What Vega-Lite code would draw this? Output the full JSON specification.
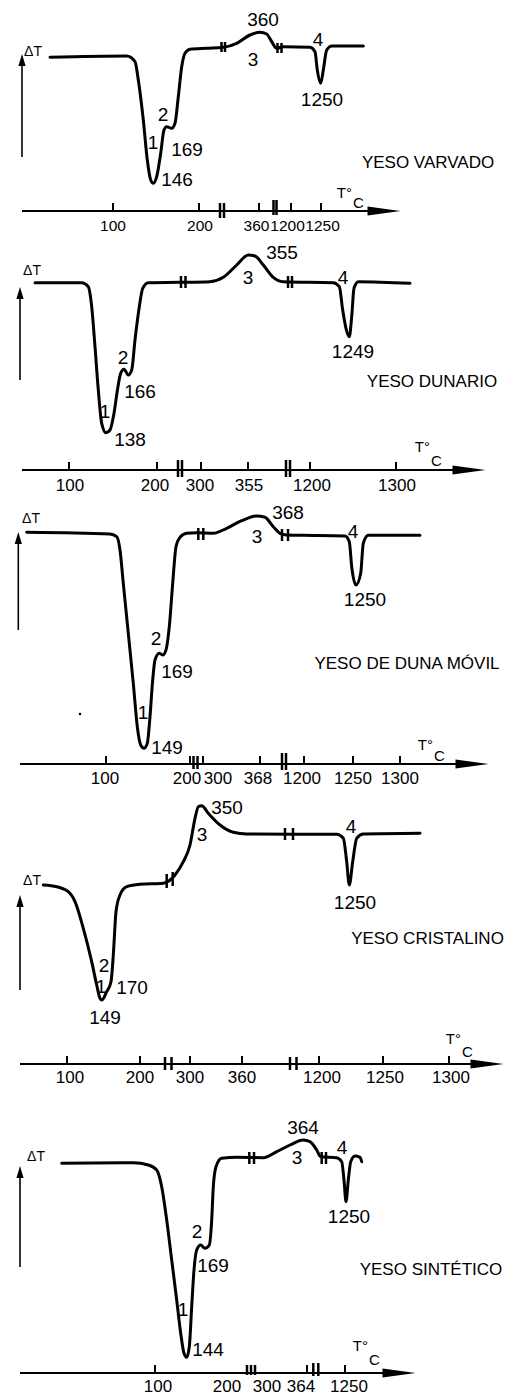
{
"$schema": "https://vega.github.io/schema/vega-lite/v6.json",
"background": "white",
"padding": 0,
"spacing": 0,
"bounds": "flush",
"config": {"view": {"stroke": null}, "concat": {"spacing": 0}},
"data": {"values": [
{"p":1,"k":"c","x":50,"y":153.7},{"p":1,"k":"c","x":126.7,"y":155},{"p":1,"k":"c","x":135,"y":149.3},{"p":1,"k":"c","x":138.3,"y":131},{"p":1,"k":"c","x":143.3,"y":91},{"p":1,"k":"c","x":147.3,"y":51},{"p":1,"k":"c","x":150.7,"y":31},{"p":1,"k":"c","x":153.3,"y":27.7},{"p":1,"k":"c","x":156.7,"y":34.3},{"p":1,"k":"c","x":160.7,"y":57.7},{"p":1,"k":"c","x":164,"y":81},{"p":1,"k":"c","x":166.7,"y":84.3},{"p":1,"k":"c","x":171.7,"y":82.7},{"p":1,"k":"c","x":175,"y":87.7},{"p":1,"k":"c","x":178.3,"y":114.3},{"p":1,"k":"c","x":181.7,"y":144.3},{"p":1,"k":"c","x":185,"y":157.7},{"p":1,"k":"c","x":190,"y":161.7},{"p":1,"k":"c","x":206.7,"y":162.7},{"p":1,"k":"c","x":223.3,"y":163.7},{"p":1,"k":"c","x":236.7,"y":167.7},{"p":1,"k":"c","x":250,"y":176},{"p":1,"k":"c","x":260,"y":178.7},{"p":1,"k":"c","x":266.7,"y":177},{"p":1,"k":"c","x":271.7,"y":169.3},{"p":1,"k":"c","x":276.7,"y":162.7},{"p":1,"k":"c","x":283.3,"y":164.3},{"p":1,"k":"c","x":310,"y":163.7},{"p":1,"k":"c","x":315,"y":159.3},{"p":1,"k":"c","x":317.3,"y":141},{"p":1,"k":"c","x":320.7,"y":127.7},{"p":1,"k":"c","x":323.3,"y":141},{"p":1,"k":"c","x":326.7,"y":161},{"p":1,"k":"c","x":331.7,"y":165},{"p":1,"k":"c","x":363.3,"y":165},
{"p":1,"k":"ax","x":22,"x2":372,"y":0},{"p":1,"k":"ah","x":384,"y":0},
{"p":1,"k":"tk","x":113,"y":0,"y2":8},{"p":1,"k":"tk","x":199,"y":0,"y2":8},{"p":1,"k":"tk","x":259,"y":0,"y2":8},{"p":1,"k":"tk","x":291,"y":0,"y2":8},{"p":1,"k":"tk","x":321,"y":0,"y2":8},
{"p":1,"k":"br","x":220,"y":-7,"y2":8},{"p":1,"k":"br","x":224,"y":-7,"y2":8},{"p":1,"k":"br","x":273.5,"y":-4,"y2":11},{"p":1,"k":"br","x":276.5,"y":-4,"y2":11},
{"p":1,"k":"br","x":221.5,"y":159,"y2":169},{"p":1,"k":"br","x":225,"y":159,"y2":169},{"p":1,"k":"br","x":277.5,"y":158,"y2":168},{"p":1,"k":"br","x":281.5,"y":158,"y2":168},
{"p":1,"k":"dl","x":22,"y":54,"y2":146},{"p":1,"k":"au","x":22,"y":151},
{"p":1,"k":"dt","x":33,"y":159,"t":"ΔT"},
{"p":1,"k":"tc1","x":352,"y":18,"t":"T°"},{"p":1,"k":"tc2","x":353,"y":8,"t":"C"},
{"p":1,"k":"n","x":263,"y":191,"t":"360"},{"p":1,"k":"n","x":253,"y":151,"t":"3"},{"p":1,"k":"n","x":318,"y":171,"t":"4"},{"p":1,"k":"n","x":322,"y":111,"t":"1250"},{"p":1,"k":"n","x":163,"y":96,"t":"2"},{"p":1,"k":"n","x":153,"y":68,"t":"1"},{"p":1,"k":"n","x":187,"y":61,"t":"169"},{"p":1,"k":"n","x":177,"y":31,"t":"146"},
{"p":1,"k":"tl","x":113,"y":-15,"t":"100"},{"p":1,"k":"tl","x":200,"y":-15,"t":"200"},{"p":1,"k":"tl","x":256.5,"y":-15,"t":"360"},{"p":1,"k":"tl","x":287.5,"y":-15,"t":"1200"},{"p":1,"k":"tl","x":322.5,"y":-15,"t":"1250"},
{"p":1,"k":"ttl","x":428,"y":48,"t":"YESO VARVADO"},

{"p":2,"k":"c","x":35,"y":187.3},{"p":2,"k":"c","x":81.7,"y":187.3},{"p":2,"k":"c","x":88.3,"y":183.3},{"p":2,"k":"c","x":91.7,"y":163.3},{"p":2,"k":"c","x":95,"y":123.3},{"p":2,"k":"c","x":98.3,"y":80},{"p":2,"k":"c","x":101.7,"y":46.7},{"p":2,"k":"c","x":106,"y":37.3},{"p":2,"k":"c","x":110,"y":40},{"p":2,"k":"c","x":114,"y":56.7},{"p":2,"k":"c","x":117.7,"y":81.7},{"p":2,"k":"c","x":120.7,"y":96.7},{"p":2,"k":"c","x":124,"y":100.7},{"p":2,"k":"c","x":128.3,"y":95},{"p":2,"k":"c","x":131.7,"y":100},{"p":2,"k":"c","x":135,"y":130},{"p":2,"k":"c","x":139.3,"y":163.3},{"p":2,"k":"c","x":142.7,"y":181.7},{"p":2,"k":"c","x":148.3,"y":187.3},{"p":2,"k":"c","x":180,"y":187.7},{"p":2,"k":"c","x":210,"y":188.3},{"p":2,"k":"c","x":223.3,"y":192.7},{"p":2,"k":"c","x":236.7,"y":205},{"p":2,"k":"c","x":248.3,"y":215},{"p":2,"k":"c","x":255,"y":214},{"p":2,"k":"c","x":263.3,"y":205},{"p":2,"k":"c","x":273.3,"y":192.7},{"p":2,"k":"c","x":283.3,"y":188.3},{"p":2,"k":"c","x":333.3,"y":187.3},{"p":2,"k":"c","x":339.3,"y":183.3},{"p":2,"k":"c","x":342.7,"y":160},{"p":2,"k":"c","x":346,"y":141.7},{"p":2,"k":"c","x":349.3,"y":133.3},{"p":2,"k":"c","x":351.7,"y":153.3},{"p":2,"k":"c","x":354,"y":181.7},{"p":2,"k":"c","x":358.3,"y":188.3},{"p":2,"k":"c","x":410,"y":186.7},
{"p":2,"k":"ax","x":22,"x2":455,"y":0},{"p":2,"k":"ah","x":469,"y":0},
{"p":2,"k":"tk","x":69,"y":0,"y2":8},{"p":2,"k":"tk","x":157,"y":0,"y2":8},{"p":2,"k":"tk","x":201,"y":0,"y2":8},{"p":2,"k":"tk","x":248,"y":0,"y2":8},{"p":2,"k":"tk","x":310,"y":0,"y2":8},{"p":2,"k":"tk","x":396,"y":0,"y2":8},
{"p":2,"k":"br","x":178,"y":-7,"y2":10},{"p":2,"k":"br","x":182,"y":-7,"y2":10},{"p":2,"k":"br","x":286,"y":-7,"y2":10},{"p":2,"k":"br","x":290,"y":-7,"y2":10},
{"p":2,"k":"br","x":181,"y":182,"y2":194},{"p":2,"k":"br","x":185.5,"y":182,"y2":194},{"p":2,"k":"br","x":288,"y":182,"y2":194},{"p":2,"k":"br","x":292,"y":182,"y2":194},
{"p":2,"k":"dl","x":20,"y":90,"y2":172},{"p":2,"k":"au","x":20,"y":177},
{"p":2,"k":"dt","x":32,"y":199,"t":"ΔT"},
{"p":2,"k":"tc1","x":430,"y":23,"t":"T°"},{"p":2,"k":"tc2","x":431,"y":9,"t":"C"},
{"p":2,"k":"n","x":282,"y":217,"t":"355"},{"p":2,"k":"n","x":248,"y":192,"t":"3"},{"p":2,"k":"n","x":343,"y":192,"t":"4"},{"p":2,"k":"n","x":353,"y":118,"t":"1249"},{"p":2,"k":"n","x":123,"y":112,"t":"2"},{"p":2,"k":"n","x":140,"y":78,"t":"166"},{"p":2,"k":"n","x":105,"y":58,"t":"1"},{"p":2,"k":"n","x":130,"y":30,"t":"138"},
{"p":2,"k":"tl","x":70,"y":-15.5,"t":"100"},{"p":2,"k":"tl","x":155,"y":-15.5,"t":"200"},{"p":2,"k":"tl","x":200,"y":-15.5,"t":"300"},{"p":2,"k":"tl","x":249,"y":-15.5,"t":"355"},{"p":2,"k":"tl","x":312,"y":-15.5,"t":"1200"},{"p":2,"k":"tl","x":397,"y":-15.5,"t":"1300"},
{"p":2,"k":"ttl","x":432,"y":88,"t":"YESO DUNARIO"},

{"p":3,"k":"c","x":26.7,"y":231.7},{"p":3,"k":"c","x":110,"y":230},{"p":3,"k":"c","x":116.7,"y":227.3},{"p":3,"k":"c","x":120,"y":214},{"p":3,"k":"c","x":123.3,"y":180.7},{"p":3,"k":"c","x":128.3,"y":130.7},{"p":3,"k":"c","x":133.3,"y":80.7},{"p":3,"k":"c","x":137.3,"y":37.3},{"p":3,"k":"c","x":140.7,"y":19},{"p":3,"k":"c","x":144,"y":15.7},{"p":3,"k":"c","x":147.3,"y":20.7},{"p":3,"k":"c","x":150,"y":47.3},{"p":3,"k":"c","x":152.7,"y":84},{"p":3,"k":"c","x":155,"y":104},{"p":3,"k":"c","x":159.3,"y":110.7},{"p":3,"k":"c","x":162.7,"y":109},{"p":3,"k":"c","x":166,"y":114},{"p":3,"k":"c","x":169.3,"y":137.3},{"p":3,"k":"c","x":172.7,"y":180.7},{"p":3,"k":"c","x":176,"y":217.3},{"p":3,"k":"c","x":180,"y":226.7},{"p":3,"k":"c","x":186.7,"y":230.7},{"p":3,"k":"c","x":196.7,"y":231.3},{"p":3,"k":"c","x":213.3,"y":230.7},{"p":3,"k":"c","x":226.7,"y":235.7},{"p":3,"k":"c","x":241.7,"y":243.3},{"p":3,"k":"c","x":256.7,"y":248},{"p":3,"k":"c","x":265,"y":246.7},{"p":3,"k":"c","x":273.3,"y":237.3},{"p":3,"k":"c","x":280,"y":230.7},{"p":3,"k":"c","x":286.7,"y":229},{"p":3,"k":"c","x":303.3,"y":228.7},{"p":3,"k":"c","x":345,"y":228},{"p":3,"k":"c","x":349.3,"y":222.3},{"p":3,"k":"c","x":351.7,"y":197.3},{"p":3,"k":"c","x":356,"y":179},{"p":3,"k":"c","x":360.7,"y":190.7},{"p":3,"k":"c","x":363.3,"y":220.7},{"p":3,"k":"c","x":368.3,"y":228.7},{"p":3,"k":"c","x":420,"y":228.7},
{"p":3,"k":"ax","x":20,"x2":458,"y":0},{"p":3,"k":"ah","x":472,"y":0},
{"p":3,"k":"tk","x":106,"y":0,"y2":8},{"p":3,"k":"tk","x":190,"y":0,"y2":8},{"p":3,"k":"tk","x":203,"y":0,"y2":8},{"p":3,"k":"tk","x":260,"y":0,"y2":8},{"p":3,"k":"tk","x":304,"y":0,"y2":8},{"p":3,"k":"tk","x":353,"y":0,"y2":8},{"p":3,"k":"tk","x":400,"y":0,"y2":8},
{"p":3,"k":"br","x":193.5,"y":-5,"y2":8},{"p":3,"k":"br","x":197.5,"y":-5,"y2":8},{"p":3,"k":"br","x":282,"y":-6,"y2":11},{"p":3,"k":"br","x":286,"y":-6,"y2":11},
{"p":3,"k":"br","x":198.3,"y":224,"y2":236},{"p":3,"k":"br","x":203.3,"y":224,"y2":236},{"p":3,"k":"br","x":282,"y":223,"y2":235},{"p":3,"k":"br","x":288,"y":223,"y2":235},
{"p":3,"k":"dl","x":18.3,"y":134,"y2":220},{"p":3,"k":"au","x":18.3,"y":226},
{"p":3,"k":"dot","x":80,"y":50},
{"p":3,"k":"dt","x":31,"y":245,"t":"ΔT"},
{"p":3,"k":"tc1","x":433,"y":19,"t":"T°"},{"p":3,"k":"tc2","x":434,"y":8,"t":"C"},
{"p":3,"k":"n","x":288,"y":251,"t":"368"},{"p":3,"k":"n","x":257,"y":227,"t":"3"},{"p":3,"k":"n","x":353,"y":232,"t":"4"},{"p":3,"k":"n","x":365,"y":164,"t":"1250"},{"p":3,"k":"n","x":156,"y":125,"t":"2"},{"p":3,"k":"n","x":177,"y":92,"t":"169"},{"p":3,"k":"n","x":143,"y":51,"t":"1"},{"p":3,"k":"n","x":167,"y":16,"t":"149"},
{"p":3,"k":"tl","x":105,"y":-15,"t":"100"},{"p":3,"k":"tl","x":187,"y":-15,"t":"200"},{"p":3,"k":"tl","x":218,"y":-15,"t":"300"},{"p":3,"k":"tl","x":258,"y":-15,"t":"368"},{"p":3,"k":"tl","x":302,"y":-15,"t":"1200"},{"p":3,"k":"tl","x":353,"y":-15,"t":"1250"},{"p":3,"k":"tl","x":400,"y":-15,"t":"1300"},
{"p":3,"k":"ttl","x":407,"y":100,"t":"YESO DE DUNA MÓVIL"},

{"p":4,"k":"c","x":43.3,"y":179},{"p":4,"k":"c","x":56.7,"y":177.3},{"p":4,"k":"c","x":68.3,"y":172.3},{"p":4,"k":"c","x":75,"y":162.3},{"p":4,"k":"c","x":83.3,"y":135.7},{"p":4,"k":"c","x":91.7,"y":102.3},{"p":4,"k":"c","x":96.7,"y":79},{"p":4,"k":"c","x":100,"y":65.7},{"p":4,"k":"c","x":101.7,"y":64},{"p":4,"k":"c","x":106.7,"y":72.3},{"p":4,"k":"c","x":111,"y":82.3},{"p":4,"k":"c","x":113.3,"y":109},{"p":4,"k":"c","x":116,"y":152.3},{"p":4,"k":"c","x":120,"y":169},{"p":4,"k":"c","x":126.7,"y":177.3},{"p":4,"k":"c","x":140,"y":179.7},{"p":4,"k":"c","x":163.3,"y":180.7},{"p":4,"k":"c","x":175,"y":189},{"p":4,"k":"c","x":183.3,"y":202.3},{"p":4,"k":"c","x":190,"y":219},{"p":4,"k":"c","x":195,"y":245.7},{"p":4,"k":"c","x":198.3,"y":257.3},{"p":4,"k":"c","x":201.7,"y":258.3},{"p":4,"k":"c","x":208.3,"y":250.7},{"p":4,"k":"c","x":220,"y":239},{"p":4,"k":"c","x":233.3,"y":231.7},{"p":4,"k":"c","x":246.7,"y":230},{"p":4,"k":"c","x":336.7,"y":229.7},{"p":4,"k":"c","x":343.3,"y":225.7},{"p":4,"k":"c","x":346.7,"y":202.3},{"p":4,"k":"c","x":349.3,"y":179},{"p":4,"k":"c","x":352.7,"y":202.3},{"p":4,"k":"c","x":356.7,"y":225.7},{"p":4,"k":"c","x":363.3,"y":230},{"p":4,"k":"c","x":420,"y":230.7},
{"p":4,"k":"ax","x":20,"x2":475,"y":0},{"p":4,"k":"ah","x":487,"y":0},
{"p":4,"k":"tk","x":67,"y":0,"y2":8},{"p":4,"k":"tk","x":140,"y":0,"y2":8},{"p":4,"k":"tk","x":190,"y":0,"y2":8},{"p":4,"k":"tk","x":242,"y":0,"y2":8},{"p":4,"k":"tk","x":319,"y":0,"y2":8},{"p":4,"k":"tk","x":383,"y":0,"y2":8},{"p":4,"k":"tk","x":449,"y":0,"y2":8},
{"p":4,"k":"br","x":165,"y":-6,"y2":7},{"p":4,"k":"br","x":171.5,"y":-6,"y2":7},{"p":4,"k":"br","x":290,"y":-6,"y2":7},{"p":4,"k":"br","x":296.5,"y":-6,"y2":7},
{"p":4,"k":"br","x":166.7,"y":176,"y2":190},{"p":4,"k":"br","x":172.7,"y":178,"y2":192},{"p":4,"k":"br","x":285,"y":224,"y2":236},{"p":4,"k":"br","x":293,"y":224,"y2":236},
{"p":4,"k":"dl","x":20,"y":74,"y2":157},{"p":4,"k":"au","x":20,"y":163},
{"p":4,"k":"dt","x":32,"y":183,"t":"ΔT"},
{"p":4,"k":"tc1","x":461,"y":25,"t":"T°"},{"p":4,"k":"tc2","x":462,"y":12.5,"t":"C"},
{"p":4,"k":"n","x":227,"y":256,"t":"350"},{"p":4,"k":"n","x":202,"y":229,"t":"3"},{"p":4,"k":"n","x":351,"y":237,"t":"4"},{"p":4,"k":"n","x":355,"y":161,"t":"1250"},{"p":4,"k":"n","x":104,"y":98,"t":"2"},{"p":4,"k":"n","x":101,"y":77,"t":"1"},{"p":4,"k":"n","x":132,"y":76,"t":"170"},{"p":4,"k":"n","x":105,"y":46,"t":"149"},
{"p":4,"k":"tl","x":70,"y":-14,"t":"100"},{"p":4,"k":"tl","x":140,"y":-14,"t":"200"},{"p":4,"k":"tl","x":190,"y":-14,"t":"300"},{"p":4,"k":"tl","x":242,"y":-14,"t":"360"},{"p":4,"k":"tl","x":322,"y":-14,"t":"1200"},{"p":4,"k":"tl","x":385,"y":-14,"t":"1250"},{"p":4,"k":"tl","x":451,"y":-14,"t":"1300"},
{"p":4,"k":"ttl","x":427.5,"y":125,"t":"YESO CRISTALINO"},

{"p":5,"k":"c","x":61.7,"y":209.7},{"p":5,"k":"c","x":133.3,"y":210.3},{"p":5,"k":"c","x":148.3,"y":208},{"p":5,"k":"c","x":156.7,"y":203},{"p":5,"k":"c","x":161.7,"y":186.3},{"p":5,"k":"c","x":166.7,"y":153},{"p":5,"k":"c","x":171.7,"y":113},{"p":5,"k":"c","x":176.7,"y":73},{"p":5,"k":"c","x":180.7,"y":39.7},{"p":5,"k":"c","x":184,"y":19.7},{"p":5,"k":"c","x":186.7,"y":15.7},{"p":5,"k":"c","x":189.3,"y":26.3},{"p":5,"k":"c","x":191.7,"y":66.3},{"p":5,"k":"c","x":194,"y":103},{"p":5,"k":"c","x":196.7,"y":123},{"p":5,"k":"c","x":200.7,"y":128},{"p":5,"k":"c","x":205,"y":124.7},{"p":5,"k":"c","x":209.3,"y":128},{"p":5,"k":"c","x":211.7,"y":153},{"p":5,"k":"c","x":213.3,"y":186.3},{"p":5,"k":"c","x":216,"y":206.3},{"p":5,"k":"c","x":221.7,"y":214.7},{"p":5,"k":"c","x":236.7,"y":215.7},{"p":5,"k":"c","x":263.3,"y":215.3},{"p":5,"k":"c","x":276.7,"y":221.3},{"p":5,"k":"c","x":290,"y":228},{"p":5,"k":"c","x":303.3,"y":233},{"p":5,"k":"c","x":310,"y":231.3},{"p":5,"k":"c","x":316.7,"y":223},{"p":5,"k":"c","x":320.7,"y":216.3},{"p":5,"k":"c","x":336.7,"y":215.3},{"p":5,"k":"c","x":341.7,"y":211.3},{"p":5,"k":"c","x":344,"y":193},{"p":5,"k":"c","x":346,"y":171.3},{"p":5,"k":"c","x":348.3,"y":193},{"p":5,"k":"c","x":350.7,"y":211.3},{"p":5,"k":"c","x":355,"y":217},{"p":5,"k":"c","x":360,"y":215.7},{"p":5,"k":"c","x":361.7,"y":211.3},
{"p":5,"k":"ax","x":20,"x2":385,"y":0},{"p":5,"k":"ah","x":399,"y":0},
{"p":5,"k":"tk","x":155,"y":0,"y2":8},{"p":5,"k":"tk","x":307,"y":0,"y2":8},{"p":5,"k":"tk","x":345,"y":0,"y2":8},
{"p":5,"k":"br","x":247,"y":-2,"y2":8},{"p":5,"k":"br","x":251,"y":-2,"y2":8},{"p":5,"k":"br","x":255,"y":-2,"y2":8},{"p":5,"k":"br","x":313.3,"y":-3,"y2":10},{"p":5,"k":"br","x":318.3,"y":-3,"y2":10},
{"p":5,"k":"br","x":249.3,"y":209,"y2":221},{"p":5,"k":"br","x":254,"y":209,"y2":221},{"p":5,"k":"br","x":321.7,"y":209,"y2":221},{"p":5,"k":"br","x":326,"y":209,"y2":221},
{"p":5,"k":"dl","x":20,"y":106,"y2":195},{"p":5,"k":"au","x":20,"y":201},
{"p":5,"k":"dt","x":36,"y":216,"t":"ΔT"},
{"p":5,"k":"tc1","x":368,"y":27,"t":"T°"},{"p":5,"k":"tc2","x":369,"y":13.5,"t":"C"},
{"p":5,"k":"n","x":303,"y":245,"t":"364"},{"p":5,"k":"n","x":297,"y":215,"t":"3"},{"p":5,"k":"n","x":342,"y":225,"t":"4"},{"p":5,"k":"n","x":349,"y":156,"t":"1250"},{"p":5,"k":"n","x":197,"y":141,"t":"2"},{"p":5,"k":"n","x":213,"y":107,"t":"169"},{"p":5,"k":"n","x":183,"y":63,"t":"1"},{"p":5,"k":"n","x":208,"y":23,"t":"144"},
{"p":5,"k":"tl","x":158,"y":-13.7,"t":"100"},{"p":5,"k":"tl","x":227,"y":-13.7,"t":"200"},{"p":5,"k":"tl","x":267,"y":-13.7,"t":"300"},{"p":5,"k":"tl","x":301,"y":-13.7,"t":"364"},{"p":5,"k":"tl","x":349,"y":-13.7,"t":"1250"},
{"p":5,"k":"ttl","x":431,"y":103,"t":"YESO SINTÉTICO"}
]},
"vconcat": [
{"width":510,"height":228,"transform":[{"filter":"datum.p==1"}],
 "encoding":{"x":{"field":"x","type":"quantitative","scale":{"domain":[0,510],"nice":false,"zero":false},"axis":null},"y":{"field":"y","type":"quantitative","scale":{"domain":[-17,211],"nice":false,"zero":false},"axis":null}},
 "layer":[
  {"transform":[{"filter":"datum.k=='c'"}],"mark":{"type":"line","interpolate":"monotone","color":"black","strokeWidth":3,"strokeCap":"round","strokeJoin":"round"},"encoding":{}},
  {"transform":[{"filter":"datum.k=='ax'"}],"mark":{"type":"rule","color":"black","strokeWidth":2},"encoding":{"x2":{"field":"x2"}}},
  {"transform":[{"filter":"datum.k=='tk'"}],"mark":{"type":"rule","color":"black","strokeWidth":2},"encoding":{"y2":{"field":"y2"}}},
  {"transform":[{"filter":"datum.k=='br'"}],"mark":{"type":"rule","color":"black","strokeWidth":2.5},"encoding":{"y2":{"field":"y2"}}},
  {"transform":[{"filter":"datum.k=='dl'"}],"mark":{"type":"rule","color":"black","strokeWidth":1.6},"encoding":{"y2":{"field":"y2"}}},
  {"transform":[{"filter":"datum.k=='ah'"}],"mark":{"type":"point","shape":"M-1,-0.28L1,0L-1,0.28Z","size":1089,"filled":true,"opacity":1,"color":"black","strokeWidth":0}},
  {"transform":[{"filter":"datum.k=='au'"}],"mark":{"type":"point","shape":"M0,-1L0.6,1L-0.6,1Z","size":144,"filled":true,"opacity":1,"color":"black","strokeWidth":0}},
  {"transform":[{"filter":"datum.k=='n'"}],"mark":{"type":"text","font":"Liberation Sans","fontSize":19,"color":"black","align":"center","baseline":"middle"},"encoding":{"text":{"field":"t"}}},
  {"transform":[{"filter":"datum.k=='tl'"}],"mark":{"type":"text","font":"Liberation Sans","fontSize":15.5,"color":"black","align":"center","baseline":"middle"},"encoding":{"text":{"field":"t"}}},
  {"transform":[{"filter":"datum.k=='ttl'"}],"mark":{"type":"text","font":"Liberation Sans","fontSize":17,"color":"black","align":"center","baseline":"middle"},"encoding":{"text":{"field":"t"}}},
  {"transform":[{"filter":"datum.k=='dt'"}],"mark":{"type":"text","font":"Liberation Sans","fontSize":14,"color":"black","align":"center","baseline":"middle"},"encoding":{"text":{"field":"t"}}},
  {"transform":[{"filter":"datum.k=='tc1'"}],"mark":{"type":"text","font":"Liberation Sans","fontSize":15,"color":"black","align":"right","baseline":"middle"},"encoding":{"text":{"field":"t"}}},
  {"transform":[{"filter":"datum.k=='tc2'"}],"mark":{"type":"text","font":"Liberation Sans","fontSize":15,"color":"black","align":"left","baseline":"middle"},"encoding":{"text":{"field":"t"}}}
 ]},
{"width":510,"height":264,"transform":[{"filter":"datum.p==2"}],
 "encoding":{"x":{"field":"x","type":"quantitative","scale":{"domain":[0,510],"nice":false,"zero":false},"axis":null},"y":{"field":"y","type":"quantitative","scale":{"domain":[-22,242],"nice":false,"zero":false},"axis":null}},
 "layer":[
  {"transform":[{"filter":"datum.k=='c'"}],"mark":{"type":"line","interpolate":"monotone","color":"black","strokeWidth":3,"strokeCap":"round","strokeJoin":"round"},"encoding":{}},
  {"transform":[{"filter":"datum.k=='ax'"}],"mark":{"type":"rule","color":"black","strokeWidth":2},"encoding":{"x2":{"field":"x2"}}},
  {"transform":[{"filter":"datum.k=='tk'"}],"mark":{"type":"rule","color":"black","strokeWidth":2},"encoding":{"y2":{"field":"y2"}}},
  {"transform":[{"filter":"datum.k=='br'"}],"mark":{"type":"rule","color":"black","strokeWidth":2.5},"encoding":{"y2":{"field":"y2"}}},
  {"transform":[{"filter":"datum.k=='dl'"}],"mark":{"type":"rule","color":"black","strokeWidth":1.6},"encoding":{"y2":{"field":"y2"}}},
  {"transform":[{"filter":"datum.k=='ah'"}],"mark":{"type":"point","shape":"M-1,-0.28L1,0L-1,0.28Z","size":1089,"filled":true,"opacity":1,"color":"black","strokeWidth":0}},
  {"transform":[{"filter":"datum.k=='au'"}],"mark":{"type":"point","shape":"M0,-1L0.6,1L-0.6,1Z","size":144,"filled":true,"opacity":1,"color":"black","strokeWidth":0}},
  {"transform":[{"filter":"datum.k=='n'"}],"mark":{"type":"text","font":"Liberation Sans","fontSize":19,"color":"black","align":"center","baseline":"middle"},"encoding":{"text":{"field":"t"}}},
  {"transform":[{"filter":"datum.k=='tl'"}],"mark":{"type":"text","font":"Liberation Sans","fontSize":17,"color":"black","align":"center","baseline":"middle"},"encoding":{"text":{"field":"t"}}},
  {"transform":[{"filter":"datum.k=='ttl'"}],"mark":{"type":"text","font":"Liberation Sans","fontSize":17,"color":"black","align":"center","baseline":"middle"},"encoding":{"text":{"field":"t"}}},
  {"transform":[{"filter":"datum.k=='dt'"}],"mark":{"type":"text","font":"Liberation Sans","fontSize":14,"color":"black","align":"center","baseline":"middle"},"encoding":{"text":{"field":"t"}}},
  {"transform":[{"filter":"datum.k=='tc1'"}],"mark":{"type":"text","font":"Liberation Sans","fontSize":15,"color":"black","align":"right","baseline":"middle"},"encoding":{"text":{"field":"t"}}},
  {"transform":[{"filter":"datum.k=='tc2'"}],"mark":{"type":"text","font":"Liberation Sans","fontSize":15,"color":"black","align":"left","baseline":"middle"},"encoding":{"text":{"field":"t"}}}
 ]},
{"width":510,"height":293,"transform":[{"filter":"datum.p==3"}],
 "encoding":{"x":{"field":"x","type":"quantitative","scale":{"domain":[0,510],"nice":false,"zero":false},"axis":null},"y":{"field":"y","type":"quantitative","scale":{"domain":[-21,272],"nice":false,"zero":false},"axis":null}},
 "layer":[
  {"transform":[{"filter":"datum.k=='c'"}],"mark":{"type":"line","interpolate":"monotone","color":"black","strokeWidth":3,"strokeCap":"round","strokeJoin":"round"},"encoding":{}},
  {"transform":[{"filter":"datum.k=='ax'"}],"mark":{"type":"rule","color":"black","strokeWidth":2},"encoding":{"x2":{"field":"x2"}}},
  {"transform":[{"filter":"datum.k=='tk'"}],"mark":{"type":"rule","color":"black","strokeWidth":2},"encoding":{"y2":{"field":"y2"}}},
  {"transform":[{"filter":"datum.k=='br'"}],"mark":{"type":"rule","color":"black","strokeWidth":2.5},"encoding":{"y2":{"field":"y2"}}},
  {"transform":[{"filter":"datum.k=='dl'"}],"mark":{"type":"rule","color":"black","strokeWidth":1.6},"encoding":{"y2":{"field":"y2"}}},
  {"transform":[{"filter":"datum.k=='ah'"}],"mark":{"type":"point","shape":"M-1,-0.28L1,0L-1,0.28Z","size":1089,"filled":true,"opacity":1,"color":"black","strokeWidth":0}},
  {"transform":[{"filter":"datum.k=='au'"}],"mark":{"type":"point","shape":"M0,-1L0.6,1L-0.6,1Z","size":144,"filled":true,"opacity":1,"color":"black","strokeWidth":0}},
  {"transform":[{"filter":"datum.k=='dot'"}],"mark":{"type":"point","shape":"circle","size":6,"filled":true,"opacity":1,"color":"black","strokeWidth":0}},
  {"transform":[{"filter":"datum.k=='n'"}],"mark":{"type":"text","font":"Liberation Sans","fontSize":19,"color":"black","align":"center","baseline":"middle"},"encoding":{"text":{"field":"t"}}},
  {"transform":[{"filter":"datum.k=='tl'"}],"mark":{"type":"text","font":"Liberation Sans","fontSize":17,"color":"black","align":"center","baseline":"middle"},"encoding":{"text":{"field":"t"}}},
  {"transform":[{"filter":"datum.k=='ttl'"}],"mark":{"type":"text","font":"Liberation Sans","fontSize":17,"color":"black","align":"center","baseline":"middle"},"encoding":{"text":{"field":"t"}}},
  {"transform":[{"filter":"datum.k=='dt'"}],"mark":{"type":"text","font":"Liberation Sans","fontSize":14,"color":"black","align":"center","baseline":"middle"},"encoding":{"text":{"field":"t"}}},
  {"transform":[{"filter":"datum.k=='tc1'"}],"mark":{"type":"text","font":"Liberation Sans","fontSize":15,"color":"black","align":"right","baseline":"middle"},"encoding":{"text":{"field":"t"}}},
  {"transform":[{"filter":"datum.k=='tc2'"}],"mark":{"type":"text","font":"Liberation Sans","fontSize":15,"color":"black","align":"left","baseline":"middle"},"encoding":{"text":{"field":"t"}}}
 ]},
{"width":510,"height":300,"transform":[{"filter":"datum.p==4"}],
 "encoding":{"x":{"field":"x","type":"quantitative","scale":{"domain":[0,510],"nice":false,"zero":false},"axis":null},"y":{"field":"y","type":"quantitative","scale":{"domain":[-21,279],"nice":false,"zero":false},"axis":null}},
 "layer":[
  {"transform":[{"filter":"datum.k=='c'"}],"mark":{"type":"line","interpolate":"monotone","color":"black","strokeWidth":3,"strokeCap":"round","strokeJoin":"round"},"encoding":{}},
  {"transform":[{"filter":"datum.k=='ax'"}],"mark":{"type":"rule","color":"black","strokeWidth":2},"encoding":{"x2":{"field":"x2"}}},
  {"transform":[{"filter":"datum.k=='tk'"}],"mark":{"type":"rule","color":"black","strokeWidth":2},"encoding":{"y2":{"field":"y2"}}},
  {"transform":[{"filter":"datum.k=='br'"}],"mark":{"type":"rule","color":"black","strokeWidth":2.5},"encoding":{"y2":{"field":"y2"}}},
  {"transform":[{"filter":"datum.k=='dl'"}],"mark":{"type":"rule","color":"black","strokeWidth":1.6},"encoding":{"y2":{"field":"y2"}}},
  {"transform":[{"filter":"datum.k=='ah'"}],"mark":{"type":"point","shape":"M-1,-0.28L1,0L-1,0.28Z","size":1089,"filled":true,"opacity":1,"color":"black","strokeWidth":0}},
  {"transform":[{"filter":"datum.k=='au'"}],"mark":{"type":"point","shape":"M0,-1L0.6,1L-0.6,1Z","size":144,"filled":true,"opacity":1,"color":"black","strokeWidth":0}},
  {"transform":[{"filter":"datum.k=='n'"}],"mark":{"type":"text","font":"Liberation Sans","fontSize":19,"color":"black","align":"center","baseline":"middle"},"encoding":{"text":{"field":"t"}}},
  {"transform":[{"filter":"datum.k=='tl'"}],"mark":{"type":"text","font":"Liberation Sans","fontSize":17,"color":"black","align":"center","baseline":"middle"},"encoding":{"text":{"field":"t"}}},
  {"transform":[{"filter":"datum.k=='ttl'"}],"mark":{"type":"text","font":"Liberation Sans","fontSize":17,"color":"black","align":"center","baseline":"middle"},"encoding":{"text":{"field":"t"}}},
  {"transform":[{"filter":"datum.k=='dt'"}],"mark":{"type":"text","font":"Liberation Sans","fontSize":14,"color":"black","align":"center","baseline":"middle"},"encoding":{"text":{"field":"t"}}},
  {"transform":[{"filter":"datum.k=='tc1'"}],"mark":{"type":"text","font":"Liberation Sans","fontSize":15,"color":"black","align":"right","baseline":"middle"},"encoding":{"text":{"field":"t"}}},
  {"transform":[{"filter":"datum.k=='tc2'"}],"mark":{"type":"text","font":"Liberation Sans","fontSize":15,"color":"black","align":"left","baseline":"middle"},"encoding":{"text":{"field":"t"}}}
 ]},
{"width":510,"height":310,"transform":[{"filter":"datum.p==5"}],
 "encoding":{"x":{"field":"x","type":"quantitative","scale":{"domain":[0,510],"nice":false,"zero":false},"axis":null},"y":{"field":"y","type":"quantitative","scale":{"domain":[-22,288],"nice":false,"zero":false},"axis":null}},
 "layer":[
  {"transform":[{"filter":"datum.k=='c'"}],"mark":{"type":"line","interpolate":"monotone","color":"black","strokeWidth":3,"strokeCap":"round","strokeJoin":"round"},"encoding":{}},
  {"transform":[{"filter":"datum.k=='ax'"}],"mark":{"type":"rule","color":"black","strokeWidth":2},"encoding":{"x2":{"field":"x2"}}},
  {"transform":[{"filter":"datum.k=='tk'"}],"mark":{"type":"rule","color":"black","strokeWidth":2},"encoding":{"y2":{"field":"y2"}}},
  {"transform":[{"filter":"datum.k=='br'"}],"mark":{"type":"rule","color":"black","strokeWidth":2.5},"encoding":{"y2":{"field":"y2"}}},
  {"transform":[{"filter":"datum.k=='dl'"}],"mark":{"type":"rule","color":"black","strokeWidth":1.6},"encoding":{"y2":{"field":"y2"}}},
  {"transform":[{"filter":"datum.k=='ah'"}],"mark":{"type":"point","shape":"M-1,-0.28L1,0L-1,0.28Z","size":1089,"filled":true,"opacity":1,"color":"black","strokeWidth":0}},
  {"transform":[{"filter":"datum.k=='au'"}],"mark":{"type":"point","shape":"M0,-1L0.6,1L-0.6,1Z","size":144,"filled":true,"opacity":1,"color":"black","strokeWidth":0}},
  {"transform":[{"filter":"datum.k=='n'"}],"mark":{"type":"text","font":"Liberation Sans","fontSize":19,"color":"black","align":"center","baseline":"middle"},"encoding":{"text":{"field":"t"}}},
  {"transform":[{"filter":"datum.k=='tl'"}],"mark":{"type":"text","font":"Liberation Sans","fontSize":17,"color":"black","align":"center","baseline":"middle"},"encoding":{"text":{"field":"t"}}},
  {"transform":[{"filter":"datum.k=='ttl'"}],"mark":{"type":"text","font":"Liberation Sans","fontSize":17,"color":"black","align":"center","baseline":"middle"},"encoding":{"text":{"field":"t"}}},
  {"transform":[{"filter":"datum.k=='dt'"}],"mark":{"type":"text","font":"Liberation Sans","fontSize":14,"color":"black","align":"center","baseline":"middle"},"encoding":{"text":{"field":"t"}}},
  {"transform":[{"filter":"datum.k=='tc1'"}],"mark":{"type":"text","font":"Liberation Sans","fontSize":15,"color":"black","align":"right","baseline":"middle"},"encoding":{"text":{"field":"t"}}},
  {"transform":[{"filter":"datum.k=='tc2'"}],"mark":{"type":"text","font":"Liberation Sans","fontSize":15,"color":"black","align":"left","baseline":"middle"},"encoding":{"text":{"field":"t"}}}
 ]}
]
}
